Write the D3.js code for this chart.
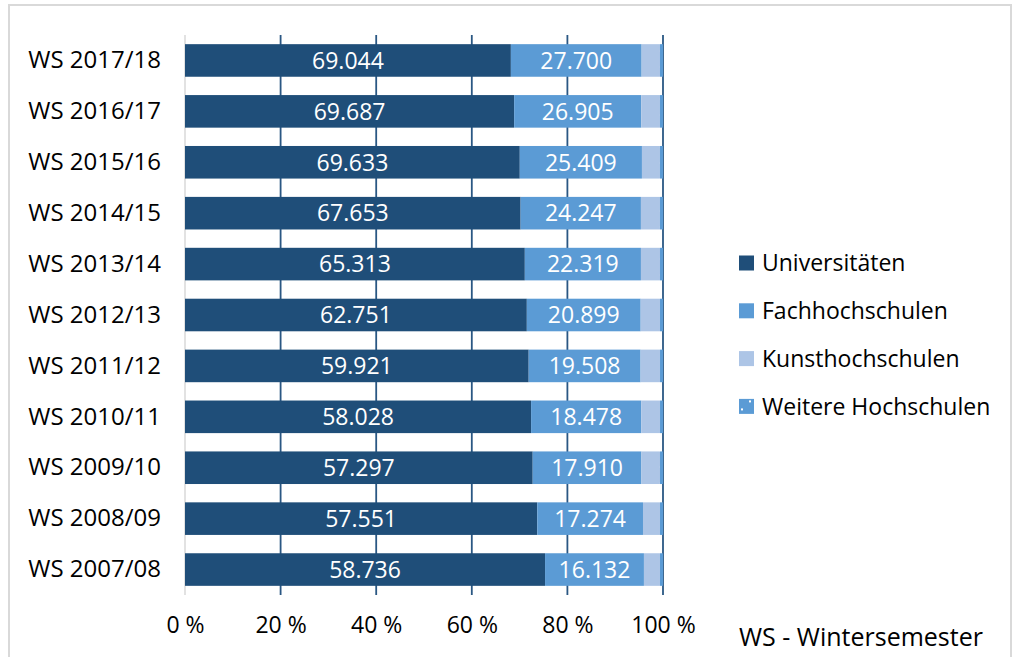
<!DOCTYPE html>
<html>
<head>
<meta charset="utf-8">
<script src="https://cdn.jsdelivr.net/npm/d3@7"></script>
<style>
  body { margin: 0; background: #fff; }
  text { font-family: "Open Sans", sans-serif; }
</style>
</head>
<body>
<div class="chart"></div>
<script>
// Studierende nach Hochschulart, Anteil in %
var semesters = ['WS 2017/18', 'WS 2016/17', 'WS 2015/16', 'WS 2014/15', 'WS 2013/14', 'WS 2012/13',
  'WS 2011/12', 'WS 2010/11', 'WS 2009/10', 'WS 2008/09', 'WS 2007/08'];
var universitaeten = [69044, 69687, 69633, 67653, 65313, 62751, 59921, 58028, 57297, 57551, 58736];
var fachhochschulen = [27700, 26905, 25409, 24247, 22319, 20899, 19508, 18478, 17910, 17274, 16132];
// (no labels in the chart)
var kunsthochschulen = [3890, 3970, 3750, 3840, 3660, 3550, 3390, 3140, 3060, 2780, 2620];
var weitere = [640, 640, 630, 610, 580, 550, 520, 500, 500, 490, 490];
var seriesNames = ['Universitäten', 'Fachhochschulen', 'Kunsthochschulen', 'Weitere Hochschulen'];
var tickValues = [0, 0.2, 0.4, 0.6, 0.8, 1];

var W = 1016, H = 657;
var x0 = 185, x1 = 663, yTop = 35, yBottom = 595;

var rows = semesters.map(function (s, i) {
  return { sem: s, 'Universitäten': universitaeten[i], 'Fachhochschulen': fachhochschulen[i],
    'Kunsthochschulen': kunsthochschulen[i], 'Weitere Hochschulen': weitere[i] };
});

var colors = { 'Universitäten': '#1F4E79', 'Fachhochschulen': '#5B9BD5', 'Kunsthochschulen': '#ADC5E6',
  'Weitere Hochschulen': 'url(#dots)' };

var de = d3.formatLocale({ decimal: ',', thousands: '.', grouping: [3], currency: ['', ' €'] });
var fmt = de.format(',d');

var svg = d3.select('.chart').append('svg')
  .attr('width', W)
  .attr('height', H);

// dotted pattern for "Weitere Hochschulen"
var pat = svg.append('defs').append('pattern')
  .attr('id', 'dots')
  .attr('patternUnits', 'userSpaceOnUse')
  .attr('width', 16).attr('height', 16);
pat.append('rect').attr('width', 16).attr('height', 16).attr('fill', '#5B9BD5');
pat.append('rect').attr('x', 2).attr('y', 2).attr('width', 2).attr('height', 2).attr('fill', '#fff');
pat.append('rect').attr('x', 10).attr('y', 10).attr('width', 2).attr('height', 2).attr('fill', '#fff');

// outer frame
svg.append('rect')
  .attr('x', 9).attr('y', 5)
  .attr('width', 1002).attr('height', 700)
  .attr('fill', 'none')
  .attr('stroke', '#D9D9D9')
  .attr('stroke-width', 2);

var xScale = d3.scaleLinear().domain([0, 1]).range([x0, x1]);
var yScale = d3.scaleBand().domain(semesters).range([yTop, yBottom])
  .paddingInner(0.36).paddingOuter(0.18);

// gridlines
svg.append('g').selectAll('line')
  .data(tickValues.slice(1))
  .enter().append('line')
  .attr('x1', function (d) { return xScale(d); })
  .attr('x2', function (d) { return xScale(d); })
  .attr('y1', yTop).attr('y2', yBottom)
  .attr('stroke', '#2A5783')
  .attr('stroke-width', 1.8);

svg.append('line')
  .attr('x1', x0).attr('x2', x0)
  .attr('y1', yTop).attr('y2', yBottom)
  .attr('stroke', '#D9D9D9')
  .attr('stroke-width', 1.5);

var stack = d3.stack().keys(seriesNames).offset(d3.stackOffsetExpand);
var layers = stack(rows);

var g = svg.append('g').selectAll('g')
  .data(layers)
  .enter().append('g')
  .attr('fill', function (d) { return colors[d.key]; });

g.selectAll('rect')
  .data(function (d) { return d; })
  .enter().append('rect')
  .attr('x', function (d) { return xScale(d[0]); })
  .attr('width', function (d) { return xScale(d[1]) - xScale(d[0]); })
  .attr('y', function (d) { return yScale(d.data.sem); })
  .attr('height', yScale.bandwidth());

// value labels for first two series
layers.slice(0, 2).forEach(function (layer) {
  svg.append('g').selectAll('text')
    .data(layer)
    .enter().append('text')
    .attr('x', function (d) { return (xScale(d[0]) + xScale(d[1])) / 2; })
    .attr('y', function (d) { return yScale(d.data.sem) + yScale.bandwidth() / 2; })
    .attr('dy', '0.36em')
    .attr('text-anchor', 'middle')
    .attr('fill', '#fff')
    .style('font-size', '23px')
    .text(function (d) { return fmt(d.data[layer.key]); });
});

// y labels
var yAxis = d3.axisLeft(yScale).tickSize(0).tickPadding(24);
svg.append('g')
  .attr('transform', 'translate(' + x0 + ',0)')
  .call(yAxis)
  .call(function (s) { s.select('.domain').remove(); })
  .selectAll('text')
  .style('font-size', '24px')
  .attr('fill', '#000');

// x labels
var xAxis = d3.axisBottom(xScale).tickValues(tickValues).tickSize(0).tickPadding(22)
  .tickFormat(function (d) { return Math.round(d * 100) + ' %'; });
svg.append('g')
  .attr('transform', 'translate(0,' + yBottom + ')')
  .call(xAxis)
  .call(function (s) { s.select('.domain').remove(); })
  .selectAll('text')
  .style('font-size', '23px')
  .attr('fill', '#000');

// legend
var legend = svg.append('g').selectAll('g')
  .data(seriesNames)
  .enter().append('g')
  .attr('transform', function (d, i) { return 'translate(739,' + (263 + i * 47.8) + ')'; });
legend.append('rect')
  .attr('y', -7.5)
  .attr('width', 15).attr('height', 15)
  .attr('fill', function (d) { return colors[d]; });
legend.append('text')
  .attr('x', 23)
  .attr('dy', '0.36em')
  .style('font-size', '23px')
  .text(function (d) { return d; });

svg.append('text')
  .attr('x', 739).attr('y', 646)
  .style('font-size', '25px')
  .text('WS - Wintersemester');
</script>
</body>
</html>
